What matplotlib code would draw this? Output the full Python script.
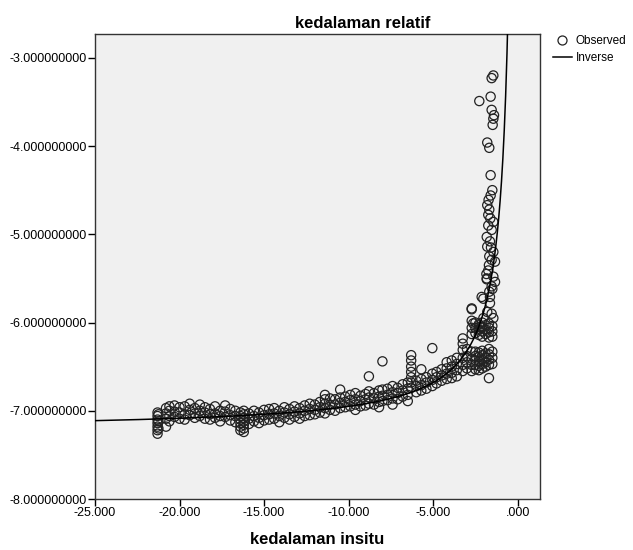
import numpy as np
import matplotlib
matplotlib.use("Agg")
import matplotlib.pyplot as plt
from matplotlib.ticker import FuncFormatter
from matplotlib.lines import Line2D

plt.rcParams['font.family'] = ['Liberation Sans', 'DejaVu Sans']

# observed points (x = kedalaman insitu, y = kedalaman relatif)
# flat far-left part
left_x = [-21.3]*7 + [-21.25]*3 + [-20.8]*4 + [-20.6]*4 + [-20.3]*3 + [-20.0]*3 + [-19.7]*3 \
    + [-19.4]*3 + [-19.1]*3 + [-18.8]*3 + [-18.5]*3 + [-18.2]*3 + [-17.9]*3 + [-17.6]*3 \
    + [-17.3]*3 + [-17.0]*3 + [-16.7]*3 + [-16.4]*6 + [-16.2]*7 + [-15.9]*3 + [-15.6]*3 \
    + [-15.3]*3 + [-15.0]*3
left_y = [-7.02, -7.06, -7.10, -7.14, -7.18, -7.22, -7.26,
          -7.04, -7.12, -7.20,
          -6.97, -7.03, -7.09, -7.18,
          -6.95, -7.00, -7.06, -7.12,
          -6.94, -7.01, -7.07,
          -6.96, -7.02, -7.09,
          -6.95, -7.04, -7.10,
          -6.92, -6.99, -7.05,
          -6.97, -7.03, -7.08,
          -6.93, -7.00, -7.06,
          -6.96, -7.02, -7.09,
          -6.98, -7.04, -7.10,
          -6.95, -7.03, -7.08,
          -7.00, -7.06, -7.12,
          -6.94, -7.01, -7.07,
          -6.98, -7.05, -7.11,
          -7.00, -7.06, -7.13,
          -7.02, -7.06, -7.10, -7.14, -7.18, -7.22,
          -7.00, -7.04, -7.08, -7.12, -7.16, -7.20, -7.24,
          -7.03, -7.09, -7.15,
          -7.00, -7.06, -7.12,
          -7.02, -7.08, -7.14,
          -6.99, -7.05, -7.11]

# slowly rising middle part
mid_x = [-14.7]*3 + [-14.4]*3 + [-14.1]*3 + [-13.8]*3 + [-13.5]*3 + [-13.2]*3 + [-12.9]*3 \
    + [-12.6]*3 + [-12.3]*3 + [-12.0]*3 + [-11.7]*3 + [-11.4]*5 + [-11.1]*3 + [-10.8]*3 \
    + [-10.5]*4 + [-10.2]*3 + [-9.9]*3 + [-9.6]*4 + [-9.3]*3 + [-9.0]*3 + [-8.8]*4 \
    + [-8.5]*3 + [-8.2]*4 + [-8.0]*4 + [-7.7]*3 + [-7.4]*4 + [-7.1]*3 + [-6.8]*3 \
    + [-6.5]*4 + [-6.3]*7 + [-6.0]*3 + [-5.7]*4 + [-5.4]*3 + [-5.05]*4
mid_y = [-6.98, -7.04, -7.10,
         -6.97, -7.03, -7.09,
         -7.00, -7.06, -7.13,
         -6.96, -7.02, -7.08,
         -6.98, -7.04, -7.10,
         -6.95, -7.01, -7.07,
         -6.97, -7.03, -7.09,
         -6.94, -7.00, -7.06,
         -6.92, -6.98, -7.05,
         -6.93, -6.99, -7.04,
         -6.90, -6.96, -7.02,
         -6.82, -6.87, -6.92, -6.97, -7.03,
         -6.86, -6.93, -6.99,
         -6.87, -6.93, -7.00,
         -6.76, -6.85, -6.91, -6.97,
         -6.84, -6.90, -6.96,
         -6.82, -6.88, -6.95,
         -6.80, -6.87, -6.93, -6.99,
         -6.83, -6.89, -6.95,
         -6.81, -6.87, -6.94,
         -6.61, -6.78, -6.85, -6.92,
         -6.80, -6.86, -6.93,
         -6.77, -6.84, -6.90, -6.96,
         -6.44, -6.76, -6.83, -6.89,
         -6.75, -6.82, -6.88,
         -6.72, -6.79, -6.86, -6.93,
         -6.74, -6.80, -6.87,
         -6.70, -6.77, -6.84,
         -6.68, -6.75, -6.82, -6.89,
         -6.37, -6.43, -6.50, -6.56, -6.62, -6.68, -6.74,
         -6.66, -6.72, -6.79,
         -6.53, -6.64, -6.71, -6.77,
         -6.62, -6.68, -6.75,
         -6.29, -6.58, -6.65, -6.72]

# bend near zero
bend_x = [-4.8]*3 + [-4.5]*3 + [-4.2]*4 + [-3.9]*4 + [-3.6]*4 + [-3.25]*6 + [-3.0]*4 \
    + [-2.72]*8 + [-2.5]*8 + [-2.3]*8 + [-2.1]*9 + [-1.9]*7 + [-1.7]*9 + [-1.5]*6
bend_y = [-6.56, -6.62, -6.69,
          -6.53, -6.60, -6.66,
          -6.45, -6.52, -6.58, -6.64,
          -6.43, -6.50, -6.57, -6.63,
          -6.40, -6.47, -6.54, -6.61,
          -6.18, -6.24, -6.31, -6.40, -6.48, -6.55,
          -6.30, -6.38, -6.45, -6.52,
          -5.85, -5.98, -6.06, -6.13, -6.33, -6.41, -6.48, -6.55,
          -6.00, -6.06, -6.12, -6.33, -6.38, -6.43, -6.48, -6.53,
          -6.02, -6.08, -6.14, -6.34, -6.39, -6.44, -6.49, -6.54,
          -6.00, -6.05, -6.10, -6.16, -6.32, -6.37, -6.42, -6.47, -6.52,
          -6.03, -6.08, -6.13, -6.35, -6.40, -6.45, -6.50,
          -6.01, -6.06, -6.11, -6.17, -6.30, -6.36, -6.42, -6.48, -6.63,
          -6.04, -6.10, -6.16, -6.33, -6.40, -6.47]

# steep part
steep_x = [-1.44, -1.54, -2.27, -1.60, -1.54, -1.40, -1.44, -1.48, -1.80, -1.68,
           -1.60, -1.50, -1.60, -1.72, -1.80, -1.68, -1.74, -1.44, -1.74, -1.54,
           -1.83, -1.64, -1.80, -1.44, -1.68, -1.54, -1.34, -1.74, -1.44, -1.83,
           -1.54, -1.68, -1.64, -2.13, -2.03, -1.64, -2.72, -1.80, -1.54, -2.03,
           -2.63, -2.23, -1.34, -1.83, -1.44, -1.50, -1.70, -1.58, -1.62, -1.85]
steep_y = [-3.20, -3.23, -3.49, -3.44, -3.59, -3.65, -3.69, -3.76, -3.96, -4.02,
           -4.33, -4.50, -4.56, -4.61, -4.67, -4.72, -4.78, -4.86, -4.90, -4.95,
           -5.03, -5.08, -5.14, -5.20, -5.25, -5.29, -5.31, -5.41, -5.48, -5.50,
           -5.59, -5.65, -5.71, -5.71, -5.73, -5.78, -5.84, -5.88, -5.90, -5.95,
           -6.01, -6.05, -5.54, -5.51, -5.95, -5.62, -5.35, -5.15, -4.82, -5.45]

# inverse model y = b0 + b1 / x
b0 = -7.22
b1 = -2.70

obs_x = left_x + mid_x + bend_x + steep_x
obs_y = left_y + mid_y + bend_y + steep_y

fig = plt.figure(figsize=(6.33, 5.5), dpi=100)
ax = fig.add_axes([95/633, 1 - 499/550, 445/633, 465/550])
ax.set_facecolor('#f0f0f0')

ax.scatter(obs_x, obs_y, s=44, facecolors='none', edgecolors='#222222', linewidths=0.9, zorder=3)

xs = np.linspace(-25, -0.55, 600)
ax.plot(xs, b0 + b1 / xs, color='black', lw=1.1, zorder=4)

ax.set_xlim(-25, 1.32)
ax.set_ylim(-8, -2.73)
ax.set_xticks([-25, -20, -15, -10, -5, 0])
ax.set_yticks([-8, -7, -6, -5, -4, -3])
ax.xaxis.set_major_formatter(FuncFormatter(lambda v, p: '%.3f' % v if v != 0 else '.000'))
ax.yaxis.set_major_formatter(FuncFormatter(lambda v, p: '%.9f' % v))
ax.tick_params(direction='out', length=5, width=1, labelsize=9, colors='black', pad=1)
for s in ax.spines.values():
    s.set_color('#333333')
    s.set_linewidth(1)

ax.set_xlabel('kedalaman insitu', fontsize=12, fontweight='bold', labelpad=9)
fig.text(363/633, 1 - 24/550, 'kedalaman relatif', fontsize=12, fontweight='bold', ha='center', va='center')

handles = [Line2D([], [], marker='o', ls='none', mfc='none', mec='#222222', ms=6.5, mew=0.9),
           Line2D([], [], color='black', lw=1.1)]
fig.legend(handles, ['Observed', 'Inverse'], loc='upper left', bbox_to_anchor=(553/633, 1 - 35/550),
           frameon=False, fontsize=8.5, handlelength=1.6, handletextpad=0.3, labelspacing=0.45,
           borderaxespad=0, borderpad=0)

fig.savefig('out.png', dpi=100)
